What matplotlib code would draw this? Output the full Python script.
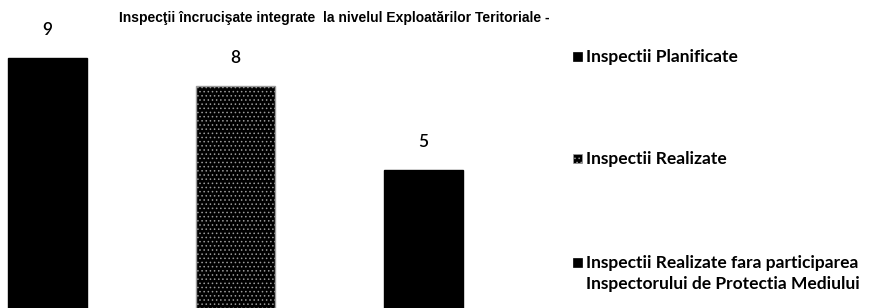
import matplotlib
matplotlib.use("Agg")
import matplotlib.pyplot as plt
from matplotlib.patches import Rectangle

series = ["Inspectii Planificate", "Inspectii Realizate",
          "Inspectii Realizate fara participarea\nInspectorului de Protectia Mediului"]
values = [9, 8, 5]
title = "Inspecţii încrucişate integrate  la nivelul Exploatărilor Teritoriale -"

W, H = 883, 308
fig = plt.figure(figsize=(W / 100, H / 100), dpi=100)
plt.rcParams["hatch.linewidth"] = 0.6

ax = fig.add_axes([0, 0, 560 / W, 1])
x = range(len(values))
bars = ax.bar(x, values, width=0.42, color="black", edgecolor="black")
bars[1].set_hatch("....")
bars[1].set_edgecolor("#9a9a9a")
ax.set_xlim(-0.253, -0.253 + 560 / 188)
ax.set_ylim(0.07, 11.07)
ax.axis("off")

for xi, v in zip(x, values):
    ax.annotate(str(v), (xi, v), xytext=(0, 20), textcoords="offset points",
                ha="center", va="center", fontsize=12.5, fontweight="semibold",
                family=["Lato", "DejaVu Sans"])

fig.text(334 / W, 1 - 18 / H, title, ha="center", va="center", fontsize=10,
         fontweight="bold", family=["Liberation Sans", "DejaVu Sans"])

# legend drawn by hand: marker beside first line of each label
leg_y = [57, 159, 263]
for i, (lab, yy) in enumerate(zip(series, leg_y)):
    sq = Rectangle((573 / W, 1 - (yy + 4) / H), 9 / W, 9 / H, transform=fig.transFigure,
                   facecolor="black", edgecolor="#9a9a9a" if i == 1 else "black",
                   hatch="...." if i == 1 else None, lw=0.5)
    fig.patches.append(sq)
    fig.text(586 / W, 1 - (yy - 8) / H, lab, ha="left", va="top", fontsize=12.5,
             fontweight="bold", linespacing=1.4, family=["Lato", "DejaVu Sans"])

fig.savefig("out.png", dpi=100, facecolor="white")
